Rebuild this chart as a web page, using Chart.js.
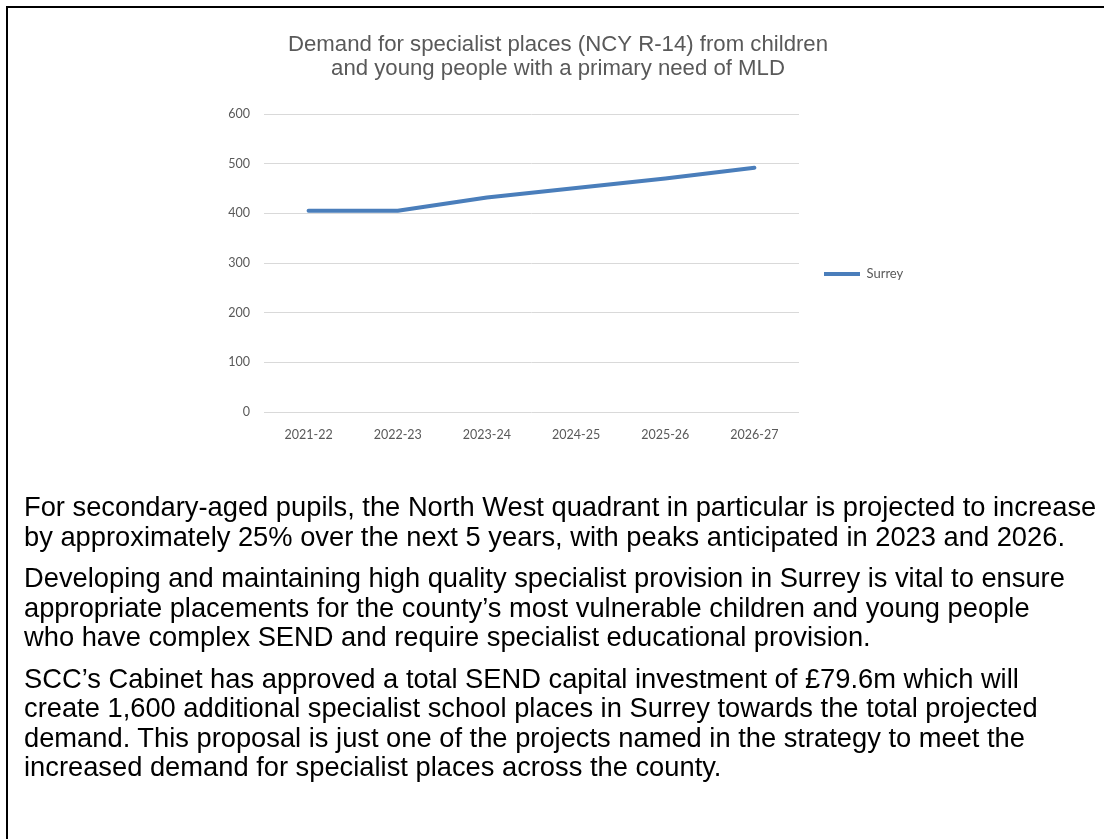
<!DOCTYPE html>
<html>
<head>
<meta charset="utf-8">
<script src="https://cdn.jsdelivr.net/npm/chart.js@4/dist/chart.umd.min.js"></script>
<style>
  html, body { margin: 0; padding: 0; background: #fff; overflow: hidden; }
  body { width: 1104px; height: 839px; position: relative; }
  .frame { position: absolute; left: 6px; top: 6px; width: 1200px; height: 1000px; border: 2px solid #000; }
  #chart { position: absolute; left: 208px; top: 20px; }
  .text { position: absolute; left: 24px; top: 492px; font-family: "Liberation Sans", Arial, sans-serif; font-size: 27.3px; line-height: 29.5px; color: #000; white-space: nowrap; }
  .text p { margin: 0 0 12px 0; }
</style>
</head>
<body>
<div class="frame"></div>
<canvas id="chart" width="700" height="520"></canvas>
<div class="text">
  <p>For secondary-aged pupils, the North West quadrant in particular is projected to increase<br>by approximately 25% over the next 5 years, with peaks anticipated in 2023 and 2026.</p>
  <p>Developing and maintaining high quality specialist provision in Surrey is vital to ensure<br>appropriate placements for the county’s most vulnerable children and young people<br>who have complex SEND and require specialist educational provision.</p>
  <p>SCC’s Cabinet has approved a total SEND capital investment of £79.6m which will<br>create 1,600 additional specialist school places in Surrey towards the total projected<br>demand. This proposal is just one of the projects named in the strategy to meet the<br>increased demand for specialist places across the county.</p>
</div>
<script>
// MLD demand, NCY R-14
const years = ["2021-22", "2022-23", "2023-24", "2024-25", "2025-26", "2026-27"];
const surrey = [405, 405, 432, 451, 470, 492];
const titleLines = ["Demand for specialist places (NCY R-14) from children", "and young people with a primary need of MLD"];

const TXT = "#595959", GRID = "#d9d9d9", LINE = "#4a7ebb";

new Chart(document.getElementById("chart").getContext("2d"), {
  type: "line",
  data: {
    labels: years,
    datasets: [{ label: "Surrey", data: surrey, borderColor: LINE, backgroundColor: LINE, borderWidth: 4, borderCapStyle: "round", borderJoinStyle: "round", pointRadius: 0, tension: 0 }],
  },
  options: {
    responsive: false, animation: false, devicePixelRatio: 1,
    layout: { padding: { top: 0, left: 0, right: 0, bottom: 12 } },
    plugins: {
      title: {
        display: true, text: titleLines, color: TXT,
        font: { family: "'Liberation Sans', Arial, sans-serif", size: 22.2, weight: "normal", lineHeight: 24 / 22.2 },
        padding: { top: 13, bottom: 33 },
      },
      legend: {
        position: "right", maxWidth: 109,
        labels: { color: TXT, font: { family: "Lato, sans-serif", size: 13 }, usePointStyle: true, pointStyle: "line", pointStyleWidth: 36, padding: 25 },
      },
      tooltip: { enabled: false },
    },
    scales: {
      x: {
        offset: true,
        grid: { display: false, drawTicks: false }, border: { display: false },
        ticks: { color: TXT, font: { family: "Lato, sans-serif", size: 12.5 }, padding: 15, maxRotation: 0 },
        afterFit: (s) => { s.height = 116; },
      },
      y: {
        min: 0, max: 600,
        grid: { color: GRID, lineWidth: 1, drawTicks: false }, border: { display: false },
        ticks: { stepSize: 100, color: TXT, font: { family: "Lato, sans-serif", size: 12.5 }, padding: 14 },
        afterFit: (s) => { s.width = 56; },
      },
    },
  },
});
</script>
</body>
</html>
